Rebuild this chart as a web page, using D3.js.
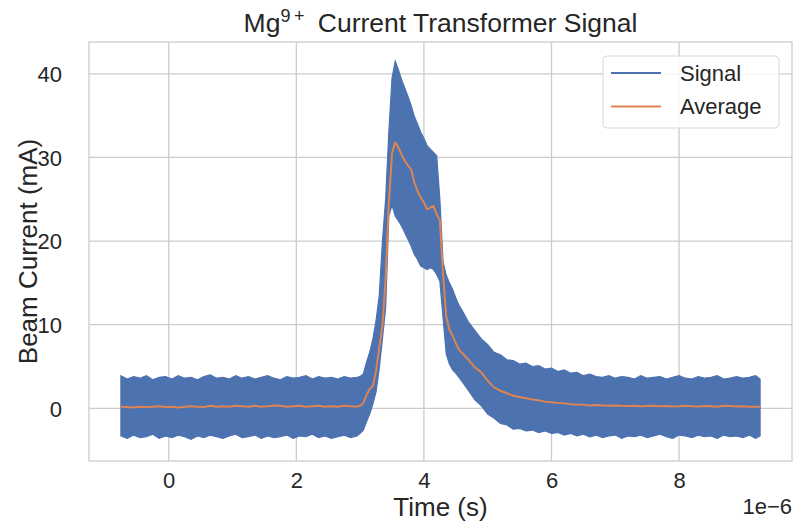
<!DOCTYPE html>
<html>
<head>
<meta charset="utf-8">
<script src="https://cdn.jsdelivr.net/npm/d3@7"></script>
<style>
  html, body { margin: 0; padding: 0; background: #ffffff; }
  svg { display: block; }
  text { font-family: "Liberation Sans", Arial, sans-serif; fill: #262626; }
</style>
</head>
<body>
<svg id="chart" width="796" height="526"></svg>
<script>
// ---------------- DATA (time in microseconds, current in mA) ----------------
const timeUs = [
  -0.75,-0.65,-0.55,-0.45,-0.35,-0.25,-0.15,-0.05,0.05,0.15,0.25,0.35,0.45,0.55,0.65,0.75,0.85,0.95,1.05,1.15,
  1.25,1.35,1.45,1.55,1.65,1.75,1.85,1.95,2.05,2.15,2.25,2.35,2.45,2.55,2.65,2.75,2.85,2.95,
  3.00,3.05,3.10,3.15,3.20,3.25,3.30,3.35,3.40,3.45,3.50,3.55,3.60,3.65,3.70,3.75,3.80,3.85,3.90,3.95,
  4.00,4.05,4.10,4.15,4.20,4.25,4.30,4.35,4.40,4.45,4.50,4.55,4.60,
  4.70,4.80,4.90,5.00,5.10,5.20,5.30,5.40,5.50,5.60,5.70,5.80,5.90,6.00,6.10,6.20,6.30,6.40,6.50,6.60,
  6.70,6.80,6.90,7.00,7.10,7.20,7.30,7.40,7.50,7.60,7.70,7.80,7.90,8.00,8.10,8.20,8.30,8.40,8.50,8.60,
  8.70,8.80,8.90,9.00,9.10,9.20,9.27
];
// Upper edge of the noisy signal band
const signalHigh = [
  3.9,3.5,3.8,3.6,3.9,3.4,3.7,3.8,3.5,3.9,3.6,3.7,3.4,3.8,4.0,3.6,3.7,3.5,3.9,3.6,
  3.8,3.5,3.7,3.9,3.6,3.4,3.8,3.6,3.7,3.9,3.5,3.8,3.6,3.7,3.5,3.8,3.6,3.7,
  3.8,4.1,5.5,6.7,8.3,10.5,13.5,20.0,25.0,33.0,39.5,41.5,40.5,39.3,38.3,37.3,36.2,34.9,34.0,33.0,
  32.3,31.4,31.0,30.6,30.2,25.0,17.5,15.9,15.0,14.2,13.2,12.3,11.7,
  10.3,9.3,8.3,7.6,6.7,6.4,5.8,5.7,5.3,5.4,5.0,5.1,4.7,4.8,4.4,4.6,4.2,4.3,3.9,4.1,
  3.8,3.7,3.9,3.6,3.8,3.7,3.5,3.9,3.6,3.7,3.8,3.5,3.7,3.9,3.6,3.5,3.8,3.6,3.7,3.9,
  3.5,3.6,3.8,3.6,3.7,3.9,3.5
];
// Lower edge of the noisy signal band
const signalLow = [
  -3.3,-3.6,-3.2,-3.5,-3.4,-3.1,-3.6,-3.3,-3.5,-3.2,-3.4,-3.7,-3.3,-3.5,-3.2,-3.4,-3.6,-3.3,-3.1,-3.5,
  -3.4,-3.2,-3.6,-3.3,-3.5,-3.4,-3.2,-3.6,-3.3,-3.4,-3.1,-3.5,-3.3,-3.6,-3.4,-3.2,-3.5,-3.3,
  -3.0,-2.6,-1.6,-0.7,0.5,2.0,4.8,8.3,12.0,23.0,24.3,23.0,22.4,21.8,21.0,20.2,19.4,18.4,17.8,17.0,
  16.8,16.6,16.8,16.6,16.0,15.2,10.8,6.5,5.3,4.6,4.2,3.7,3.2,
  2.1,1.0,0.3,-0.7,-1.2,-1.8,-2.0,-2.5,-2.4,-2.7,-2.6,-2.9,-2.7,-3.0,-2.9,-3.2,-3.0,-3.3,-3.1,-3.4,
  -3.2,-3.5,-3.3,-3.2,-3.6,-3.3,-3.4,-3.2,-3.5,-3.3,-3.1,-3.4,-3.6,-3.2,-3.3,-3.5,-3.2,-3.4,-3.3,-3.6,
  -3.2,-3.4,-3.3,-3.5,-3.2,-3.6,-3.3
];
// Running average
const average = [
  0.2,0.15,0.1,0.2,0.15,0.2,0.25,0.15,0.2,0.1,0.2,0.25,0.2,0.15,0.3,0.2,0.25,0.2,0.3,0.25,
  0.2,0.3,0.2,0.25,0.35,0.3,0.2,0.25,0.3,0.2,0.25,0.3,0.2,0.25,0.2,0.3,0.25,0.2,
  0.3,0.6,1.6,2.3,2.7,4.5,7.2,9.9,15.5,24.5,30.5,31.8,31.2,30.3,29.6,29.0,28.6,27.0,26.0,25.2,
  24.6,23.8,24.0,24.2,23.2,22.5,16.0,11.0,9.4,8.7,7.8,7.0,6.6,
  5.8,4.9,4.3,3.3,2.5,2.1,1.8,1.5,1.35,1.2,1.05,0.95,0.8,0.72,0.65,0.6,0.5,0.45,0.42,0.35,
  0.4,0.35,0.3,0.35,0.3,0.28,0.32,0.25,0.28,0.3,0.25,0.28,0.22,0.25,0.3,0.25,0.22,0.28,0.25,0.2,
  0.3,0.28,0.22,0.25,0.18,0.2,0.2
];
const xTicks = [0, 2, 4, 6, 8];
const yTicks = [0, 10, 20, 30, 40];
const seriesNames = ["Signal", "Average"];
const seriesColors = ["#4c72b0", "#dd8452"];

// ---------------- LAYOUT ----------------
const svg = d3.select("#chart");
const plot = { left: 89, right: 792, top: 42, bottom: 461 };

const x = d3.scaleLinear().domain([-1.25, 9.77]).range([plot.left, plot.right]);
const y = d3.scaleLinear().domain([-6.3, 43.8]).range([plot.bottom, plot.top]);

const gridColor = "#cccccc";

// grid
const g = svg.append("g");
g.selectAll(".gx").data(xTicks).enter().append("line")
  .attr("x1", d => x(d)).attr("x2", d => x(d))
  .attr("y1", plot.top).attr("y2", plot.bottom)
  .attr("stroke", gridColor).attr("stroke-width", 1.3);
g.selectAll(".gy").data(yTicks).enter().append("line")
  .attr("y1", d => y(d)).attr("y2", d => y(d))
  .attr("x1", plot.left).attr("x2", plot.right)
  .attr("stroke", gridColor).attr("stroke-width", 1.3);

// data
const n = Math.min(timeUs.length, signalHigh.length, signalLow.length, average.length);
const rows = timeUs.slice(0, n).map((t, i) => ({ t, hi: signalHigh[i], lo: signalLow[i], avg: average[i] }));

const area = d3.area().x(d => x(d.t)).y0(d => y(d.lo)).y1(d => y(d.hi));
svg.append("path").datum(rows).attr("d", area)
  .attr("fill", seriesColors[0]).attr("stroke", seriesColors[0])
  .attr("stroke-width", 1.2).attr("stroke-linejoin", "miter");

const line = d3.line().x(d => x(d.t)).y(d => y(d.avg));
svg.append("path").datum(rows).attr("d", line)
  .attr("fill", "none").attr("stroke", seriesColors[1])
  .attr("stroke-width", 2).attr("stroke-linejoin", "round");

// frame (spines)
svg.append("rect")
  .attr("x", plot.left).attr("y", plot.top)
  .attr("width", plot.right - plot.left).attr("height", plot.bottom - plot.top)
  .attr("fill", "none").attr("stroke", gridColor).attr("stroke-width", 1.3);

// axes via d3 axis generators (tick lines hidden, seaborn-style)
const xAxis = d3.axisBottom(x).tickValues(xTicks).tickSize(0).tickPadding(0).tickFormat(d3.format("d"));
const xa = svg.append("g").attr("transform", `translate(0,${plot.bottom})`).call(xAxis);
xa.select(".domain").remove();
xa.selectAll("text").attr("dy", null).attr("y", 27).attr("font-size", 22)
  .attr("font-family", "Liberation Sans, Arial, sans-serif").attr("fill", "#262626");

const yAxis = d3.axisLeft(y).tickValues(yTicks).tickSize(0).tickPadding(0).tickFormat(d3.format("d"));
const ya = svg.append("g").attr("transform", `translate(${plot.left},0)`).call(yAxis);
ya.select(".domain").remove();
ya.selectAll("text").attr("x", -27).attr("dy", "0.35em").attr("font-size", 22)
  .attr("font-family", "Liberation Sans, Arial, sans-serif").attr("fill", "#262626");

// axis labels
svg.append("text").attr("x", (plot.left + plot.right) / 2).attr("y", 516)
  .attr("text-anchor", "middle").attr("font-size", 26).text("Time (s)");
svg.append("text").attr("x", plot.right).attr("y", 514)
  .attr("text-anchor", "end").attr("font-size", 22).text("1e\u22126");
svg.append("text")
  .attr("transform", `translate(37,${(plot.top + plot.bottom) / 2}) rotate(-90)`)
  .attr("text-anchor", "middle").attr("font-size", 26).text("Beam Current (mA)");

// title
const title = svg.append("text").attr("x", (plot.left + plot.right) / 2).attr("y", 32)
  .attr("text-anchor", "middle").attr("font-size", 26.5);
title.append("tspan").text("Mg");
title.append("tspan").attr("font-size", 18).attr("dy", -10).text("9\u2009+");
title.append("tspan").attr("dy", 10).text("\u2002Current Transformer Signal");

// legend
const leg = svg.append("g");
leg.append("rect").attr("x", 603).attr("y", 56).attr("width", 176).attr("height", 72)
  .attr("rx", 4).attr("fill", "rgba(255,255,255,0.8)").attr("stroke", "#d9d9d9").attr("stroke-width", 1);
seriesNames.forEach((name, i) => {
  const yy = 73 + i * 33.5;
  leg.append("line").attr("x1", 611).attr("x2", 661).attr("y1", yy).attr("y2", yy)
    .attr("stroke", seriesColors[i]).attr("stroke-width", 1.8);
  leg.append("text").attr("x", 680).attr("y", yy).attr("dy", "0.35em")
    .attr("font-size", 22).text(name);
});
</script>
</body>
</html>
